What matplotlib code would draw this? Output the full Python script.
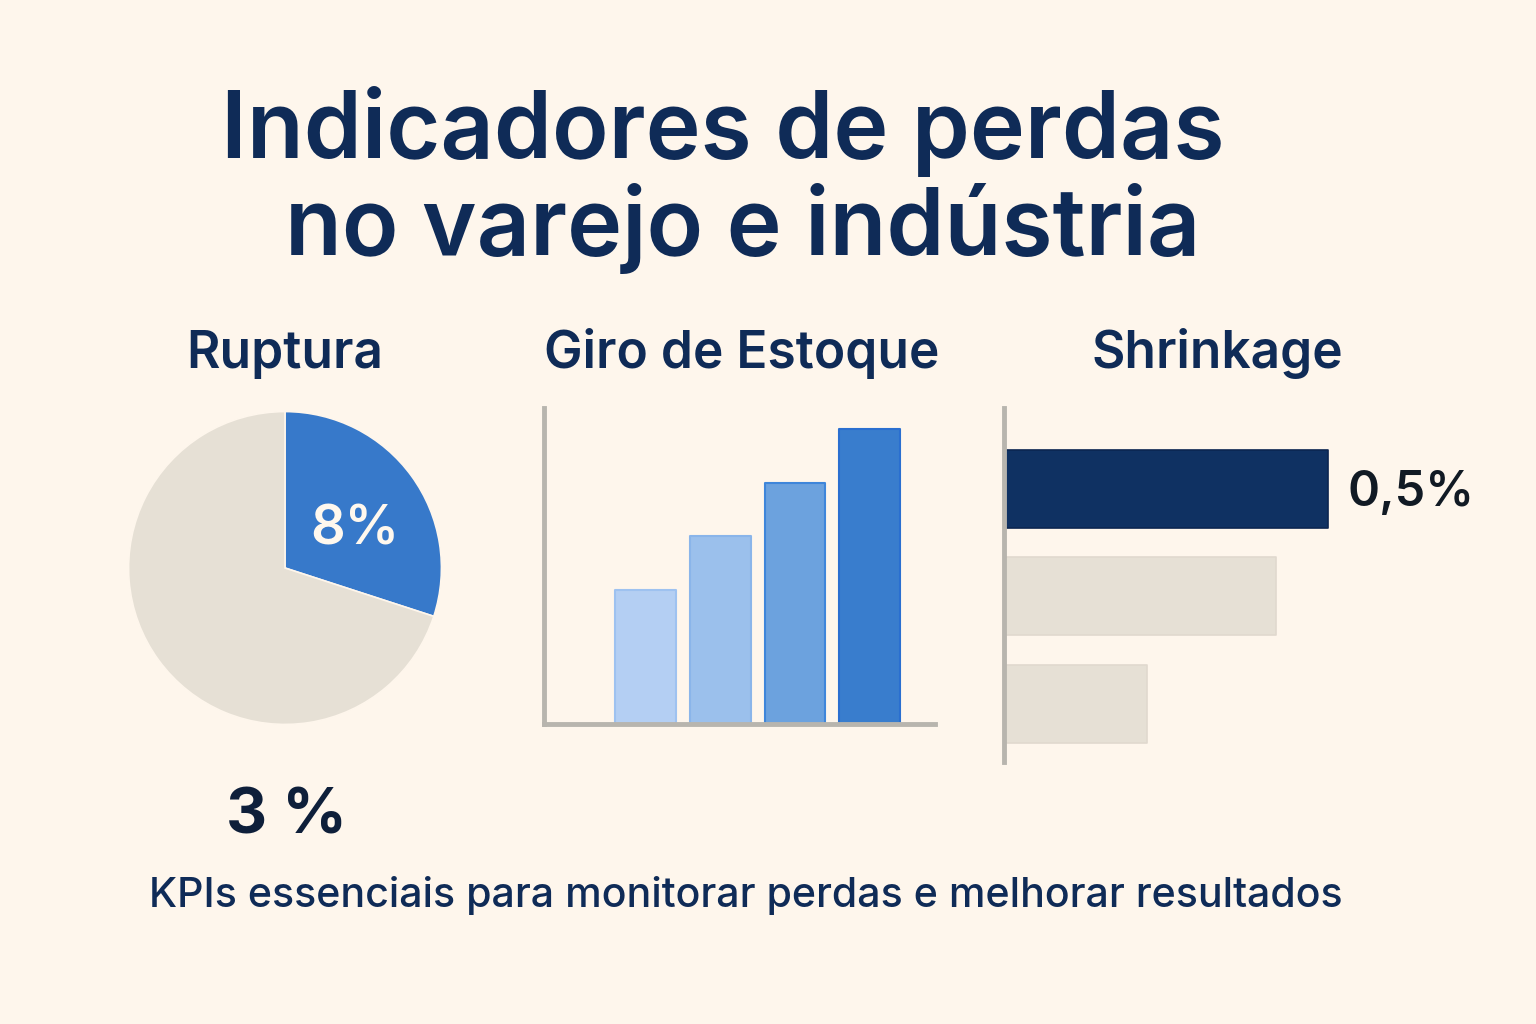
import matplotlib
matplotlib.use("Agg")
import matplotlib.pyplot as plt
import numpy as np

# ---- data ----
title_lines = ["Indicadores de perdas", "no varejo e indústria"]
panel_titles = ["Ruptura", "Giro de Estoque", "Shrinkage"]
pie_values = [30, 70]
pie_label = "8%"
pie_big_label = "3 %"
giro_values = [2.5, 3.5, 4.5, 5.5]
shrink_values = [0.5, 0.42, 0.22]
shrink_label = "0,5%"
footer = "KPIs essenciais para monitorar perdas e melhorar resultados"

# ---- style ----
BG = "#FEF6EC"
NAVY = "#0F2B57"
BLUE = "#3779CA"
GREY = "#E6E0D5"
AXGREY = "#B8B5AE"
bar_colors = ["#B4CFF3", "#9BC0EC", "#6CA2DE", "#397DCD"]
bar_edges = ["#9EC2F0", "#8AB5EA", "#3F86DA", "#2A6FD0"]
FONT = ["Inter", "DejaVu Sans"]
plt.rcParams["font.family"] = FONT

W, H = 1536, 1024
fig = plt.figure(figsize=(W / 100, H / 100), dpi=100, facecolor=BG)


def rect(x0, y0, x1, y1):
    return [x0 / W, 1 - y1 / H, (x1 - x0) / W, (y1 - y0) / H]


# titles
fig.text(723 / W, 1 - 158 / H, title_lines[0], ha="center", va="baseline",
         fontsize=67, fontweight="semibold", color=NAVY)
fig.text(743 / W, 1 - 255 / H, title_lines[1], ha="center", va="baseline",
         fontsize=67, fontweight="semibold", color=NAVY)

for x, t in zip([285, 742, 1217], panel_titles):
    fig.text(x / W, 1 - 368 / H, t, ha="center", va="baseline",
             fontsize=37, fontweight="semibold", color=NAVY)

fig.text(746 / W, 1 - 907 / H, footer, ha="center", va="baseline",
         fontsize=29.6, fontweight="medium", color=NAVY)

# ---- pie ----
axp = fig.add_axes(rect(127, 410, 443, 726))
axp.set_facecolor(BG)
wedges, _ = axp.pie(pie_values, colors=[BLUE, GREY], startangle=90,
                    counterclock=False, radius=1,
                    wedgeprops=dict(edgecolor=BG, linewidth=1.2))
axp.set_xlim(-1.01, 1.01)
axp.set_ylim(-1.01, 1.01)
axp.set_aspect("equal")
axp.axis("off")
w0 = wedges[0]
mid = np.deg2rad((w0.theta1 + w0.theta2) / 2)
axp.text(0.5 * np.cos(mid) + 0.04, 0.5 * np.sin(mid) - 0.05, pie_label,
         ha="center", va="center", fontsize=39, color="#FFF8EE",
         fontweight="semibold")

fig.text(287 / W, 1 - 833 / H, pie_big_label, ha="center", va="baseline",
         fontsize=46, fontweight="bold", color="#0E1F3A")

# ---- vertical bars ----
axb = fig.add_axes(rect(544, 408, 935, 724))
axb.set_facecolor("none")
x = np.arange(len(giro_values))
bars = axb.bar(x, giro_values, width=0.81, color=bar_colors,
               edgecolor=bar_edges, linewidth=1.5)
for b in bars:
    b.set_joinstyle("round")
axb.set_xlim(-1.36, 3.875)
axb.set_ylim(0, 5.89)
for s in ["top", "right"]:
    axb.spines[s].set_visible(False)
for s in ["left", "bottom"]:
    axb.spines[s].set_color(AXGREY)
    axb.spines[s].set_linewidth(3.5)
axb.set_xticks([])
axb.set_yticks([])

# ---- horizontal bars ----
axh = fig.add_axes(rect(1004, 408, 1500, 762))
axh.set_facecolor("none")
y = np.arange(len(shrink_values))
hcolors = ["#0F3162", GREY, GREY]
hedges = ["#0B2550", "#E0D9CE", "#E0D9CE"]
hb = axh.barh(y, shrink_values, height=0.725, color=hcolors,
              edgecolor=hedges, linewidth=1.2)
for b in hb:
    b.set_joinstyle("round")
axh.set_xlim(0, 0.765)
axh.set_ylim(2.54, -0.753)
for s in ["top", "right", "bottom"]:
    axh.spines[s].set_visible(False)
axh.spines["left"].set_color(AXGREY)
axh.spines["left"].set_linewidth(3.5)
axh.set_xticks([])
axh.set_yticks([])
axh.annotate(shrink_label, xy=(shrink_values[0], 0), xytext=(14, -3),
             textcoords="offset points", ha="left", va="center",
             fontsize=35, fontweight="semibold", color="#111A24")

fig.savefig("out.png", dpi=100, facecolor=BG)
